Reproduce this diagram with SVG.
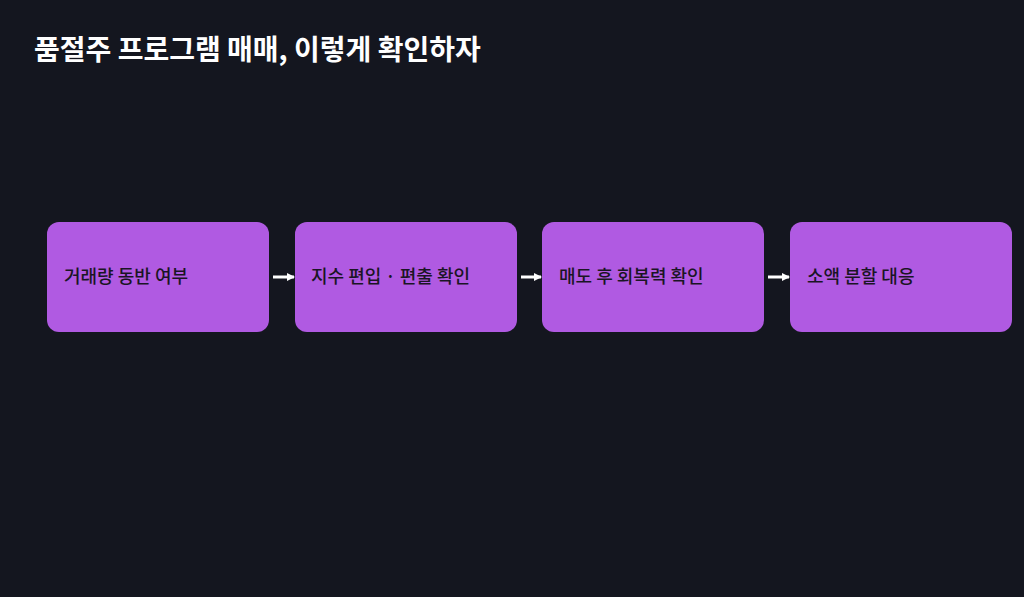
<svg xmlns="http://www.w3.org/2000/svg" width="1024" height="597" viewBox="0 0 1024 597">
<style>
.box{fill:#b05ae2}
.lbl{font-family:"Noto Sans CJK KR","Noto Sans",sans-serif;font-size:18px;fill:#1a1524;font-weight:500}
.con{stroke:#ffffff;stroke-width:3;fill:none}
</style>
<defs><marker id="ah" markerWidth="8" markerHeight="8" refX="7" refY="4" orient="auto" markerUnits="userSpaceOnUse"><path d="M0,0 L8,4 L0,8 z" fill="#fff"/></marker></defs>
<rect width="1024" height="597" fill="#14161f"/>
<text x="34" y="60" font-family="'Noto Sans CJK KR',sans-serif" font-size="28" font-weight="700" fill="#fff">품절주 프로그램 매매, 이렇게 확인하자</text>
<g id="connectors">
<line class="con" x1="273" y1="277" x2="294" y2="277" marker-end="url(#ah)"/>
<line class="con" x1="521" y1="277" x2="541" y2="277" marker-end="url(#ah)"/>
<line class="con" x1="768" y1="277" x2="789" y2="277" marker-end="url(#ah)"/>
</g>
<g id="n1"><rect class="box" x="47" y="222" width="222" height="110" rx="12"/><text class="lbl" x="64" y="283">거래량 동반 여부</text></g>
<g id="n2"><rect class="box" x="295" y="222" width="222" height="110" rx="12"/><text class="lbl" x="311" y="283">지수 편입 · 편출 확인</text></g>
<g id="n3"><rect class="box" x="542" y="222" width="222" height="110" rx="12"/><text class="lbl" x="559" y="283">매도 후 회복력 확인</text></g>
<g id="n4"><rect class="box" x="790" y="222" width="222" height="110" rx="12"/><text class="lbl" x="807" y="283">소액 분할 대응</text></g>
</svg>
